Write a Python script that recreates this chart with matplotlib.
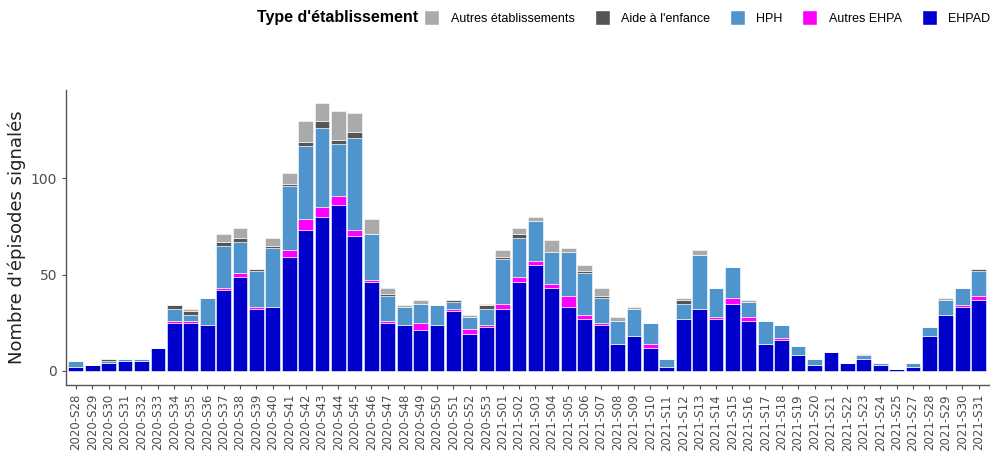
import numpy as np
import matplotlib
matplotlib.use("Agg")
from matplotlib import pyplot as plt
from matplotlib.patches import Patch

# weeks (2021-S26 absent in source)
weeks = ([f"2020-S{w:02d}" for w in range(28, 54)]
         + [f"2021-S{w:02d}" for w in range(1, 26)]
         + [f"2021-S{w:02d}" for w in range(27, 32)])

ehpad = [2, 3, 4, 5, 5, 12, 25, 25, 24, 42, 49, 32, 33, 59, 73, 80, 86, 70, 46,
         25, 24, 21, 24, 31, 19, 23,
         32, 46, 55, 43, 33, 27, 24, 14, 18, 12, 2, 27, 32, 27, 35, 26, 14, 16, 8,
         3, 10, 4, 6, 3, 1,
         2, 18, 29, 33, 37]
autres_ehpa = [0, 0, 0, 0, 0, 0, 1, 1, 0, 1, 2, 1, 0, 4, 6, 5, 5, 3, 1,
               1, 0, 4, 0, 1, 3, 1,
               3, 3, 2, 2, 6, 2, 1, 0, 0, 2, 0, 0, 0, 1, 3, 2, 0, 1, 0,
               0, 0, 0, 0, 0, 0,
               0, 0, 0, 1, 2]
hph = [3, 0, 1, 1, 1, 0, 6, 3, 14, 22, 16, 19, 31, 33, 38, 41, 27, 48, 24,
       13, 9, 10, 10, 4, 6, 8,
       23, 20, 21, 17, 23, 22, 13, 12, 14, 11, 4, 8, 28, 15, 16, 8, 12, 7, 5,
       3, 0, 0, 2, 1, 0,
       2, 5, 8, 9, 13]
aide_enfance = [0, 0, 1, 0, 0, 0, 2, 2, 0, 2, 2, 1, 1, 1, 2, 4, 2, 3, 0,
                1, 0, 0, 0, 1, 0, 2,
                1, 2, 0, 0, 0, 1, 1, 0, 0, 0, 0, 2, 0, 0, 0, 0, 0, 0, 0,
                0, 0, 0, 0, 0, 0,
                0, 0, 0, 0, 1]
autres_etab = [0, 0, 0, 0, 0, 0, 0, 1, 0, 4, 5, 0, 4, 6, 11, 9, 15, 10, 8,
               3, 1, 2, 0, 0, 1, 1,
               4, 3, 2, 6, 2, 3, 4, 2, 1, 0, 0, 1, 3, 0, 0, 1, 0, 0, 0,
               0, 0, 0, 1, 0, 0,
               0, 0, 1, 0, 0]

series = [("EHPAD", ehpad, "#0000CD"),
          ("Autres EHPA", autres_ehpa, "#FF00FF"),
          ("HPH", hph, "#4F94CD"),
          ("Aide à l'enfance", aide_enfance, "#555555"),
          ("Autres établissements", autres_etab, "#AAAAAA")]

fig = plt.figure(figsize=(9.92, 4.61), dpi=100)
ax = fig.add_axes([0.0665, 0.165, 0.93, 0.64])

x = np.arange(len(weeks))
bottom = np.zeros(len(weeks))
for name, vals, col in series:
    vals = np.array(vals, dtype=float)
    ax.bar(x, vals, bottom=bottom, width=0.9, color=col,
           edgecolor="white", linewidth=0.4)
    bottom += vals

ax.set_xlim(-0.6, len(weeks) - 0.4)
ax.set_ylim(-7.3, 146)
ax.set_yticks([0, 50, 100])
ax.set_xticks(x)
ax.set_xticklabels(weeks, rotation=90, fontsize=8.5, color="#4d4d4d")
ax.tick_params(axis="y", labelsize=10, colors="#4d4d4d", length=3)
ax.tick_params(axis="x", length=3, color="#4d4d4d")
for s in ["top", "right"]:
    ax.spines[s].set_visible(False)
for s in ["left", "bottom"]:
    ax.spines[s].set_color("#555555")
    ax.spines[s].set_linewidth(1.0)
ax.set_ylabel("Nombre d'épisodes signalés", fontsize=13, color="#222222")
ax.yaxis.set_label_coords(-0.043, 0.5)

# legend on top, title on its left
handles = [Patch(facecolor=c, edgecolor="white", label=n) for n, _, c in series[::-1]]
fig.legend(handles=handles, loc="center right", ncol=5,
           bbox_to_anchor=(0.998, 0.962), frameon=False,
           prop={"family": "Liberation Sans", "size": 9},
           handlelength=1.2, handleheight=1.4, columnspacing=1.6,
           handletextpad=0.9, borderaxespad=0, borderpad=0)
fig.text(0.422, 0.962, "Type d'établissement", ha="right", va="center",
         fontsize=11.5, fontweight="bold", family="Liberation Sans")

fig.savefig("out.png", dpi=100)
